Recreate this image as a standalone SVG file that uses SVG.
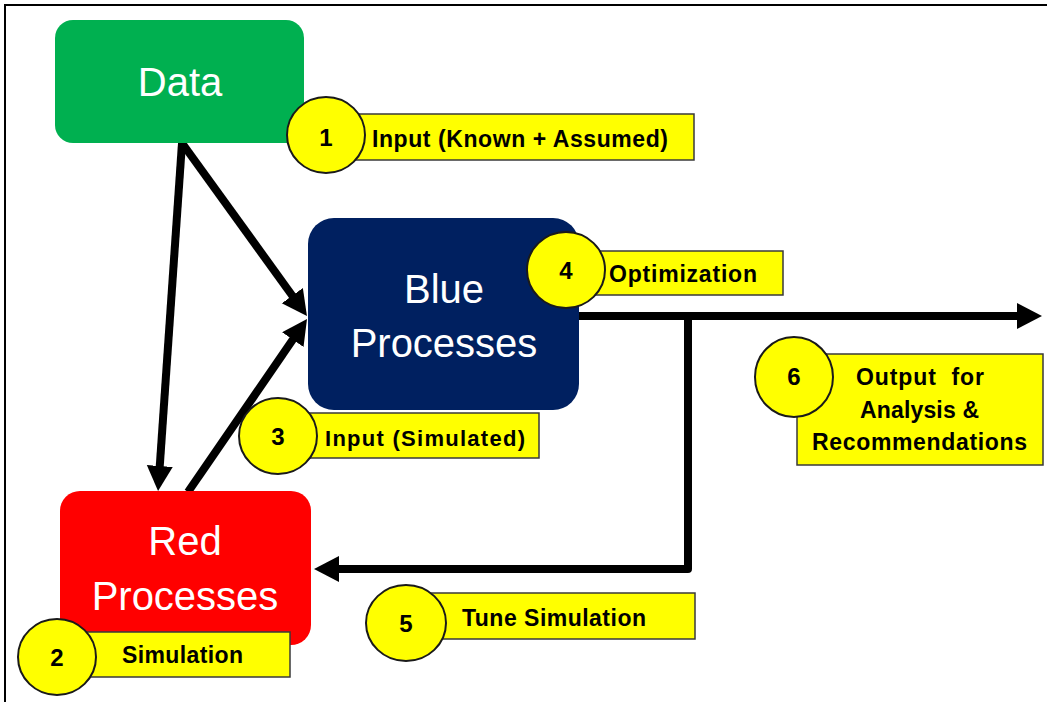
<svg xmlns="http://www.w3.org/2000/svg" width="1047" height="702" viewBox="0 0 1047 702">
<style>
.box-text{font-family:"Liberation Sans",Arial,sans-serif;font-size:40px;fill:#ffffff;text-anchor:middle}
.lbl{font-family:"Liberation Sans",Arial,sans-serif;font-size:23px;font-weight:bold;fill:#000000}
.num{font-family:"Liberation Sans",Arial,sans-serif;font-size:24px;font-weight:bold;fill:#000000;text-anchor:middle}
.badge{fill:#ffff00;stroke:#1a1a1a;stroke-width:2}
.tag{fill:#ffff00;stroke:#3a3a3a;stroke-width:1.5}
.conn{fill:none;stroke:#000000;stroke-width:8;stroke-linejoin:round}
</style>
<defs>
<marker id="ah" markerUnits="userSpaceOnUse" markerWidth="26" markerHeight="28" refX="1" refY="13" orient="auto">
<path d="M0,0 L25,13 L0,26 z" fill="#000000"/>
</marker>
</defs>
<rect x="0" y="0" width="1047" height="702" fill="#ffffff"/>
<rect x="5" y="5" width="1100" height="800" fill="none" stroke="#000000" stroke-width="2"/>

<g id="connectors">
<line class="conn" x1="182" y1="143" x2="159.7" y2="467" marker-end="url(#ah)"/>
<line class="conn" x1="182" y1="143" x2="292.9" y2="296.5" marker-end="url(#ah)"/>
<line class="conn" x1="188" y1="492" x2="293.4" y2="338.8" marker-end="url(#ah)"/>
<line class="conn" x1="579" y1="316" x2="1018" y2="316" marker-end="url(#ah)"/>
<path class="conn" d="M688,316 V569 H338" marker-end="url(#ah)"/>
</g>

<g id="node-data">
<rect x="55" y="20" width="249" height="123" rx="18" fill="#00b050"/>
<text class="box-text" x="180" y="96">Data</text>
</g>

<g id="node-blue">
<rect x="308" y="218" width="271" height="192" rx="26" fill="#002060"/>
<text class="box-text" x="444" y="303">Blue</text>
<text class="box-text" x="444" y="357">Processes</text>
</g>

<g id="node-red">
<rect x="60" y="491" width="251" height="154" rx="20" fill="#ff0000"/>
<text class="box-text" x="185" y="555">Red</text>
<text class="box-text" x="185" y="610">Processes</text>
</g>

<g id="callout-1">
<rect class="tag" x="340" y="114" width="354" height="46"/>
<ellipse class="badge" cx="326" cy="135" rx="39" ry="38"/>
<text class="num" x="326" y="146">1</text>
<text class="lbl" x="372" y="147" textLength="296">Input (Known + Assumed)</text>
</g>

<g id="callout-2">
<rect class="tag" x="80" y="632" width="210" height="45"/>
<ellipse class="badge" cx="57" cy="657" rx="39" ry="38"/>
<text class="num" x="57" y="666">2</text>
<text class="lbl" x="122" y="663" textLength="121">Simulation</text>
</g>

<g id="callout-3">
<rect class="tag" x="300" y="413" width="239" height="45"/>
<ellipse class="badge" cx="278" cy="436" rx="39" ry="38"/>
<text class="num" x="278" y="445">3</text>
<text class="lbl" x="325" y="446" style="font-size:22px" textLength="200">Input (Simulated)</text>
</g>

<g id="callout-4">
<rect class="tag" x="585" y="251" width="198" height="44"/>
<ellipse class="badge" cx="566" cy="270" rx="39" ry="38"/>
<text class="num" x="566" y="279">4</text>
<text class="lbl" x="609" y="282" textLength="148">Optimization</text>
</g>

<g id="callout-5">
<rect class="tag" x="430" y="593" width="265" height="46"/>
<ellipse class="badge" cx="406" cy="623" rx="40" ry="38"/>
<text class="num" x="406" y="632">5</text>
<text class="lbl" x="462" y="626" textLength="184">Tune Simulation</text>
</g>

<g id="callout-6">
<rect class="tag" x="797" y="354" width="246" height="111"/>
<ellipse class="badge" cx="794" cy="377" rx="39" ry="40"/>
<text class="num" x="794" y="385">6</text>
<text class="lbl" x="856" y="385" textLength="128" xml:space="preserve">Output  for</text>
<text class="lbl" x="860" y="418" textLength="119">Analysis &amp;</text>
<text class="lbl" x="812" y="450" textLength="215">Recommendations</text>
</g>
</svg>
